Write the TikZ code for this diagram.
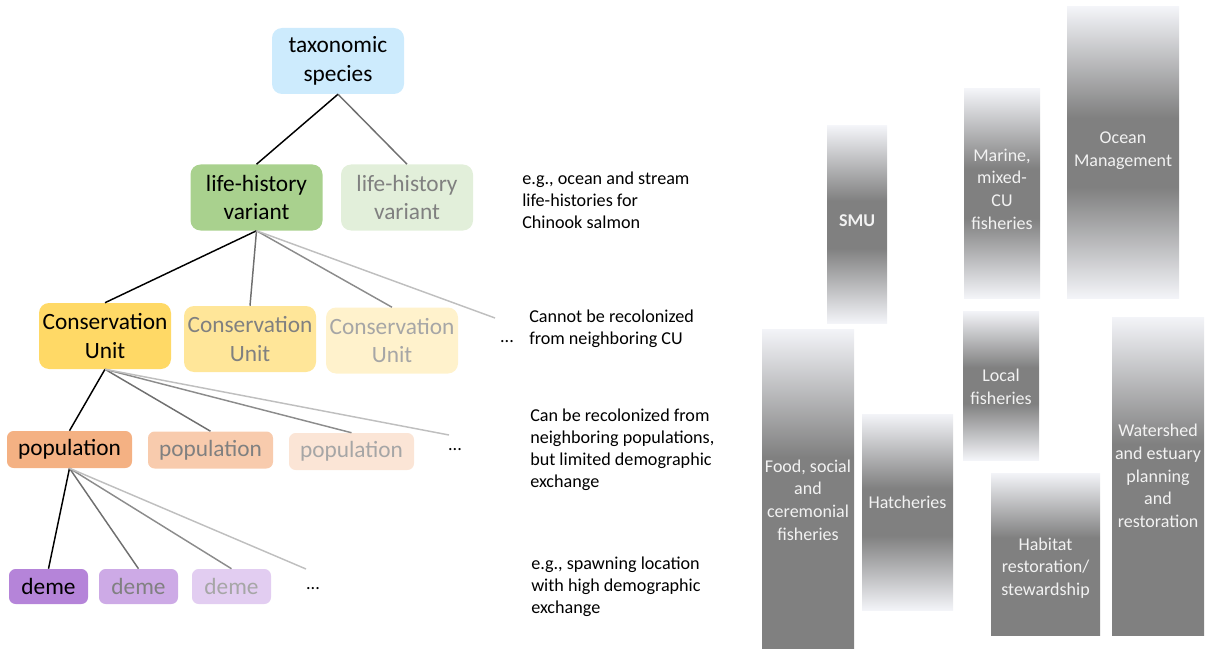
\documentclass[tikz,border=0pt]{standalone}
\usepackage{fontspec}
\setmainfont{Carlito}

\definecolor{corTax}{HTML}{CDEBFD}
\definecolor{corLhA}{HTML}{A9D18E}
\definecolor{corLhB}{HTML}{E2EFDA}
\definecolor{corCuA}{HTML}{FFD966}
\definecolor{corCuB}{HTML}{FFE699}
\definecolor{corCuC}{HTML}{FFF2CC}
\definecolor{corPopA}{HTML}{F4B183}
\definecolor{corPopB}{HTML}{F8CBAD}
\definecolor{corPopC}{HTML}{FBE5D6}
\definecolor{corDemA}{HTML}{B584D9}
\definecolor{corDemB}{HTML}{CDAAE6}
\definecolor{corDemC}{HTML}{E2CDF1}
\definecolor{txtB}{HTML}{808080}
\definecolor{txtC}{HTML}{A6A6A6}
\definecolor{linB}{HTML}{6F6F6F}
\definecolor{linC}{HTML}{8C8C8C}
\definecolor{linD}{HTML}{BFBFBF}
\definecolor{barLight}{HTML}{F3F4F8}
\definecolor{barDark}{HTML}{808080}
\definecolor{barText}{HTML}{F2F2F2}

\pgfdeclareverticalshading{barmeio}{100bp}{color(0bp)=(barLight); color(25bp)=(barLight);
  color(44bp)=(barDark); color(56bp)=(barDark); color(75bp)=(barLight); color(100bp)=(barLight)}
\pgfdeclareverticalshading{barmeia}{100bp}{color(0bp)=(barDark); color(25bp)=(barDark);
  color(55bp)=(barDark); color(75bp)=(barLight); color(100bp)=(barLight)}

\tikzset{
  caixa/.style={rounded corners=7.5pt, align=center, inner sep=0pt,
    minimum width=99pt, minimum height=49.5pt, font=\fontsize{17.5}{21.5}\selectfont},
  caixinha/.style={rounded corners=5pt, inner sep=0pt,
    minimum width=93.75pt, minimum height=27.75pt, font=\fontsize{17.5}{21.5}\selectfont},
  deminha/.style={caixinha, minimum width=59.25pt, minimum height=26.25pt},
  nota/.style={align=left, anchor=west, inner sep=0pt, font=\fontsize{13.6}{16.5}\selectfont},
  reticencias/.style={inner sep=0pt, font=\fontsize{13.6}{16.5}\selectfont},
  ramo/.style={line width=1.1pt},
  barra/.style={shading=barmeio},
  barrameia/.style={shading=barmeia},
  rotulo/.style={align=center, inner sep=0pt, text=barText, font=\fontsize{13.5}{17}\selectfont}
}

\begin{document}
\begin{tikzpicture}[x=0.75pt, y=-0.75pt]
    \useasboundingbox (0,0) rectangle (1206,649);

    % Árvore
    \node[caixa, fill=corTax] (tax) at (338,61) {taxonomic\\species};
    \node[caixa, fill=corLhA] (lhA) at (256.5,197.5) {life-history\\variant};
    \node[caixa, fill=corLhB, text=txtB] (lhB) at (407,197.5) {life-history\\variant};

    \node[caixa, fill=corCuA] (cuA) at (105,336) {Conservation\\Unit};
    \node[caixa, fill=corCuB, text=txtB] (cuB) at (250,339) {Conservation\\Unit};
    \node[caixa, fill=corCuC, text=txtC] (cuC) at (392,340.5) {Conservation\\Unit};
    \node[reticencias] (cuDots) at (507,342) {...};
    \coordinate (cuFim) at (495,318);

    \node[caixinha, fill=corPopA] (popA) at (69.5,449.5) {population};
    \node[caixinha, fill=corPopB, text=txtB] (popB) at (210.5,450) {population};
    \node[caixinha, fill=corPopC, text=txtC] (popC) at (351.5,451.5) {population};
    \node[reticencias] (popDots) at (455,450) {...};
    \coordinate (popFim) at (449,435);

    \node[deminha, fill=corDemA] (demA) at (48.5,586.5) {deme};
    \node[deminha, fill=corDemB, text=txtB] (demB) at (138.5,586.5) {deme};
    \node[deminha, fill=corDemC, text=txtC] (demC) at (231.5,586.5) {deme};
    \node[reticencias] (demDots) at (313,589) {...};
    \coordinate (demFim) at (306,569);

    % Ligações
    \draw[ramo] (tax.south) -- (lhA.north);
    \draw[ramo, linB] (tax.south) -- (lhB.north);

    \draw[ramo] (lhA.south) -- (cuA.north);
    \draw[ramo, linB] (lhA.south) -- (cuB.north);
    \draw[ramo, linC] (lhA.south) -- (cuC.north);
    \draw[ramo, linD] (lhA.south) -- (cuFim);

    \draw[ramo] (cuA.south) -- (popA.north);
    \draw[ramo, linB] (cuA.south) -- (popB.north);
    \draw[ramo, linC] (cuA.south) -- (popC.north);
    \draw[ramo, linD] (cuA.south) -- (popFim);

    \draw[ramo] (popA.south) -- (demA.north);
    \draw[ramo, linB] (popA.south) -- (demB.north);
    \draw[ramo, linC] (popA.south) -- (demC.north);
    \draw[ramo, linD] (popA.south) -- (demFim);

    % Notas
    \node[nota] (notaLh) at (522,200) {e.g., ocean and stream\\life-histories for\\Chinook salmon};
    \node[nota] (notaCu) at (529,329) {Cannot be recolonized\\from neighboring CU};
    \node[nota] (notaPop) at (530,450) {Can be recolonized from\\neighboring populations,\\but limited demographic\\exchange};
    \node[nota] (notaDem) at (531,587) {e.g., spawning location\\with high demographic\\exchange};

    % Barras de gestão
    \shade[barra] (827,126) rectangle (887,323);
    \shade[barra] (964,89) rectangle (1040,298);
    \shade[barra] (1067,7) rectangle (1179,298);
    \shade[barrameia] (762,329) rectangle (854,649);
    \shade[barra] (862,414) rectangle (953,610);
    \shade[barra] (963,311) rectangle (1039,460);
    \shade[barrameia] (991,473) rectangle (1100,635);
    \shade[barrameia] (1112,317) rectangle (1204,635);

    \node[rotulo] (smu) at (857,221) {\textbf{SMU}};
    \node[rotulo] (marine) at (1002,189) {Marine,\\mixed-\\CU\\fisheries};
    \node[rotulo] (ocean) at (1123,151) {Ocean\\Management};
    \node[rotulo] (food) at (808,500) {Food, social\\and\\ceremonial\\fisheries};
    \node[rotulo] (hatch) at (907.5,502) {Hatcheries};
    \node[rotulo] (local) at (1001,387) {Local\\fisheries};
    \node[rotulo] (habitat) at (1045.5,568) {Habitat\\restoration/\\stewardship};
    \node[rotulo] (water) at (1158,476) {Watershed\\and estuary\\planning\\and\\restoration};
\end{tikzpicture}
\end{document}
